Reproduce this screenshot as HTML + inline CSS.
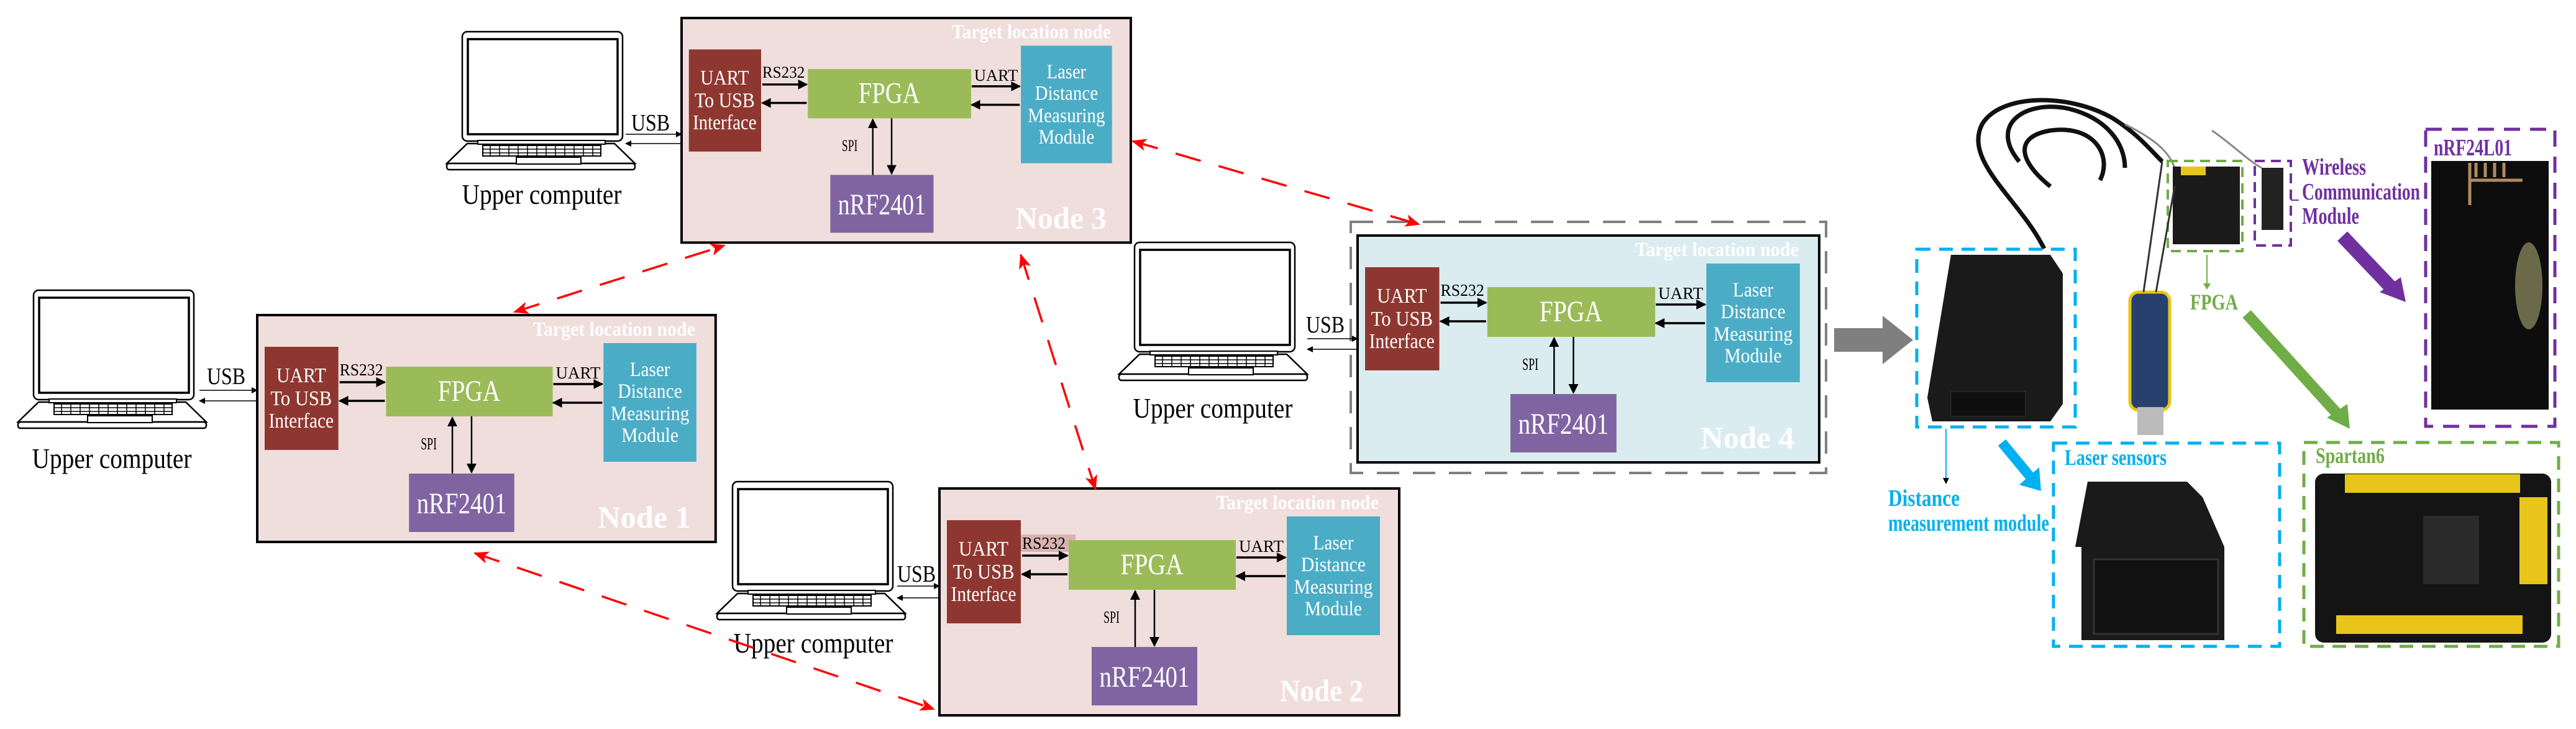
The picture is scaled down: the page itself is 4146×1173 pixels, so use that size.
<!DOCTYPE html>
<html><head><meta charset="utf-8"><style>html,body{margin:0;padding:0;background:#fff}svg{display:block}text{font-family:"Liberation Serif",serif}</style></head>
<body>
<svg width="4146" height="1173" viewBox="0 0 4146 1173" xmlns="http://www.w3.org/2000/svg">
<defs>
<marker id="ah" markerWidth="10" markerHeight="10" refX="9" refY="5" orient="auto" markerUnits="userSpaceOnUse" viewBox="0 0 10 10"><path d="M0,0 L10,5 L0,10 z" fill="#000"/></marker>
<marker id="ahb" markerWidth="16" markerHeight="16" refX="14" refY="8" orient="auto" markerUnits="userSpaceOnUse" viewBox="0 0 16 16"><path d="M0,0 L16,8 L0,16 z" fill="#000"/></marker>
<marker id="ahr" markerWidth="24" markerHeight="20" refX="22" refY="10" orient="auto" markerUnits="userSpaceOnUse" viewBox="0 0 24 20"><path d="M0,0 L24,10 L0,20 L6,10 z" fill="#ff0000"/></marker>
<marker id="ahrs" markerWidth="24" markerHeight="20" refX="2" refY="10" orient="auto" markerUnits="userSpaceOnUse" viewBox="0 0 24 20"><path d="M24,0 L0,10 L24,20 L18,10 z" fill="#ff0000"/></marker>
</defs>

<rect x="2174" y="357" width="765" height="404" fill="none" stroke="#7f7f7f" stroke-width="4" stroke-dasharray="36 22"/>

<!-- NODE 3 -->
<g transform="translate(1097,29) scale(0.977,0.99)">
<rect x="0" y="0" width="740" height="365" fill="#f0dedc" stroke="#000" stroke-width="4"/>
<text x="707" y="33" font-size="32" font-weight="bold" fill="#fff" text-anchor="end" textLength="262" lengthAdjust="spacingAndGlyphs">Target location node</text>
<rect x="12" y="51" width="119" height="166" fill="#8e3730"/>
<g fill="#fff" font-size="34" text-anchor="middle"><text x="71" y="108" textLength="80" lengthAdjust="spacingAndGlyphs">UART</text><text x="71" y="145" textLength="99" lengthAdjust="spacingAndGlyphs">To USB</text><text x="71" y="181" textLength="105" lengthAdjust="spacingAndGlyphs">Interface</text></g>
<rect x="208" y="83" width="269" height="80" fill="#9bbb59"/>
<text x="342" y="138" font-size="48" fill="#fff" text-anchor="middle" textLength="101" lengthAdjust="spacingAndGlyphs">FPGA</text>
<rect x="559" y="45" width="150" height="191" fill="#4bacc6"/>
<g fill="#fff" font-size="33" text-anchor="middle"><text x="634" y="98" textLength="65" lengthAdjust="spacingAndGlyphs">Laser</text><text x="634" y="133" textLength="104" lengthAdjust="spacingAndGlyphs">Distance</text><text x="634" y="169" textLength="127" lengthAdjust="spacingAndGlyphs">Measuring</text><text x="634" y="204" textLength="92" lengthAdjust="spacingAndGlyphs">Module</text></g>
<rect x="245" y="255" width="170" height="94" fill="#8064a2"/>
<text x="330" y="319" font-size="48" fill="#fff" text-anchor="middle" textLength="145" lengthAdjust="spacingAndGlyphs">nRF2401</text>
<text x="625" y="342" font-size="50" font-weight="bold" fill="#fff" text-anchor="middle" textLength="150" lengthAdjust="spacingAndGlyphs">Node  3</text>
<text x="168" y="97" font-size="27" text-anchor="middle" textLength="70" lengthAdjust="spacingAndGlyphs">RS232</text>
<text x="518" y="102" font-size="27" text-anchor="middle" textLength="72" lengthAdjust="spacingAndGlyphs">UART</text>
<text x="277" y="216" font-size="27" text-anchor="middle" textLength="26" lengthAdjust="spacingAndGlyphs">SPI</text>
<g stroke="#000" stroke-width="3.5"><line x1="133" y1="108" x2="206" y2="108" marker-end="url(#ahb)"/><line x1="206" y1="138" x2="133" y2="138" marker-end="url(#ahb)"/><line x1="478" y1="111" x2="557" y2="111" marker-end="url(#ahb)"/><line x1="557" y1="141" x2="478" y2="141" marker-end="url(#ahb)"/></g>
<g stroke="#000" stroke-width="2.5"><line x1="315" y1="255" x2="315" y2="165" marker-end="url(#ahb)"/><line x1="346" y1="163" x2="346" y2="253" marker-end="url(#ahb)"/></g>
</g>

<!-- NODE 1 -->
<g transform="translate(414,507) scale(0.997,1)">
<rect x="0" y="0" width="740" height="365" fill="#f0dedc" stroke="#000" stroke-width="4"/>
<text x="707" y="33" font-size="32" font-weight="bold" fill="#fff" text-anchor="end" textLength="262" lengthAdjust="spacingAndGlyphs">Target location node</text>
<rect x="12" y="51" width="119" height="166" fill="#8e3730"/>
<g fill="#fff" font-size="34" text-anchor="middle"><text x="71" y="108" textLength="80" lengthAdjust="spacingAndGlyphs">UART</text><text x="71" y="145" textLength="99" lengthAdjust="spacingAndGlyphs">To USB</text><text x="71" y="181" textLength="105" lengthAdjust="spacingAndGlyphs">Interface</text></g>
<rect x="208" y="83" width="269" height="80" fill="#9bbb59"/>
<text x="342" y="138" font-size="48" fill="#fff" text-anchor="middle" textLength="101" lengthAdjust="spacingAndGlyphs">FPGA</text>
<rect x="559" y="45" width="150" height="191" fill="#4bacc6"/>
<g fill="#fff" font-size="33" text-anchor="middle"><text x="634" y="98" textLength="65" lengthAdjust="spacingAndGlyphs">Laser</text><text x="634" y="133" textLength="104" lengthAdjust="spacingAndGlyphs">Distance</text><text x="634" y="169" textLength="127" lengthAdjust="spacingAndGlyphs">Measuring</text><text x="634" y="204" textLength="92" lengthAdjust="spacingAndGlyphs">Module</text></g>
<rect x="245" y="255" width="170" height="94" fill="#8064a2"/>
<text x="330" y="319" font-size="48" fill="#fff" text-anchor="middle" textLength="145" lengthAdjust="spacingAndGlyphs">nRF2401</text>
<text x="625" y="342" font-size="50" font-weight="bold" fill="#fff" text-anchor="middle" textLength="150" lengthAdjust="spacingAndGlyphs">Node  1</text>
<text x="168" y="97" font-size="27" text-anchor="middle" textLength="70" lengthAdjust="spacingAndGlyphs">RS232</text>
<text x="518" y="102" font-size="27" text-anchor="middle" textLength="72" lengthAdjust="spacingAndGlyphs">UART</text>
<text x="277" y="216" font-size="27" text-anchor="middle" textLength="26" lengthAdjust="spacingAndGlyphs">SPI</text>
<g stroke="#000" stroke-width="3.5"><line x1="133" y1="108" x2="206" y2="108" marker-end="url(#ahb)"/><line x1="206" y1="138" x2="133" y2="138" marker-end="url(#ahb)"/><line x1="478" y1="111" x2="557" y2="111" marker-end="url(#ahb)"/><line x1="557" y1="141" x2="478" y2="141" marker-end="url(#ahb)"/></g>
<g stroke="#000" stroke-width="2.5"><line x1="315" y1="255" x2="315" y2="165" marker-end="url(#ahb)"/><line x1="346" y1="163" x2="346" y2="253" marker-end="url(#ahb)"/></g>
</g>

<!-- NODE 2 -->
<g transform="translate(1512,786)">
<rect x="0" y="0" width="740" height="365" fill="#f0dedc" stroke="#000" stroke-width="4"/>
<text x="707" y="33" font-size="32" font-weight="bold" fill="#fff" text-anchor="end" textLength="262" lengthAdjust="spacingAndGlyphs">Target location node</text>
<rect x="131" y="74" width="88" height="28" fill="#d9b3b0"/>
<rect x="12" y="51" width="119" height="166" fill="#8e3730"/>
<g fill="#fff" font-size="34" text-anchor="middle"><text x="71" y="108" textLength="80" lengthAdjust="spacingAndGlyphs">UART</text><text x="71" y="145" textLength="99" lengthAdjust="spacingAndGlyphs">To USB</text><text x="71" y="181" textLength="105" lengthAdjust="spacingAndGlyphs">Interface</text></g>
<rect x="208" y="83" width="269" height="80" fill="#9bbb59"/>
<text x="342" y="138" font-size="48" fill="#fff" text-anchor="middle" textLength="101" lengthAdjust="spacingAndGlyphs">FPGA</text>
<rect x="559" y="45" width="150" height="191" fill="#4bacc6"/>
<g fill="#fff" font-size="33" text-anchor="middle"><text x="634" y="98" textLength="65" lengthAdjust="spacingAndGlyphs">Laser</text><text x="634" y="133" textLength="104" lengthAdjust="spacingAndGlyphs">Distance</text><text x="634" y="169" textLength="127" lengthAdjust="spacingAndGlyphs">Measuring</text><text x="634" y="204" textLength="92" lengthAdjust="spacingAndGlyphs">Module</text></g>
<rect x="245" y="255" width="170" height="94" fill="#8064a2"/>
<text x="330" y="319" font-size="48" fill="#fff" text-anchor="middle" textLength="145" lengthAdjust="spacingAndGlyphs">nRF2401</text>
<text x="615" y="342" font-size="50" font-weight="bold" fill="#fff" text-anchor="middle" textLength="134" lengthAdjust="spacingAndGlyphs">Node 2</text>
<text x="168" y="97" font-size="27" text-anchor="middle" textLength="70" lengthAdjust="spacingAndGlyphs">RS232</text>
<text x="518" y="102" font-size="27" text-anchor="middle" textLength="72" lengthAdjust="spacingAndGlyphs">UART</text>
<text x="277" y="216" font-size="27" text-anchor="middle" textLength="26" lengthAdjust="spacingAndGlyphs">SPI</text>
<g stroke="#000" stroke-width="3.5"><line x1="133" y1="108" x2="206" y2="108" marker-end="url(#ahb)"/><line x1="206" y1="138" x2="133" y2="138" marker-end="url(#ahb)"/><line x1="478" y1="111" x2="557" y2="111" marker-end="url(#ahb)"/><line x1="557" y1="141" x2="478" y2="141" marker-end="url(#ahb)"/></g>
<g stroke="#000" stroke-width="2.5"><line x1="315" y1="255" x2="315" y2="165" marker-end="url(#ahb)"/><line x1="346" y1="163" x2="346" y2="253" marker-end="url(#ahb)"/></g>
</g>

<!-- NODE 4 -->
<g transform="translate(2185,379) scale(1.004,1)">
<rect x="0" y="0" width="740" height="365" fill="#dbecf0" stroke="#000" stroke-width="4"/>
<text x="707" y="33" font-size="32" font-weight="bold" fill="#fff" text-anchor="end" textLength="262" lengthAdjust="spacingAndGlyphs">Target location node</text>
<rect x="12" y="51" width="119" height="166" fill="#8e3730"/>
<g fill="#fff" font-size="34" text-anchor="middle"><text x="71" y="108" textLength="80" lengthAdjust="spacingAndGlyphs">UART</text><text x="71" y="145" textLength="99" lengthAdjust="spacingAndGlyphs">To USB</text><text x="71" y="181" textLength="105" lengthAdjust="spacingAndGlyphs">Interface</text></g>
<rect x="208" y="83" width="269" height="80" fill="#9bbb59"/>
<text x="342" y="138" font-size="48" fill="#fff" text-anchor="middle" textLength="101" lengthAdjust="spacingAndGlyphs">FPGA</text>
<rect x="559" y="45" width="150" height="191" fill="#4bacc6"/>
<g fill="#fff" font-size="33" text-anchor="middle"><text x="634" y="98" textLength="65" lengthAdjust="spacingAndGlyphs">Laser</text><text x="634" y="133" textLength="104" lengthAdjust="spacingAndGlyphs">Distance</text><text x="634" y="169" textLength="127" lengthAdjust="spacingAndGlyphs">Measuring</text><text x="634" y="204" textLength="92" lengthAdjust="spacingAndGlyphs">Module</text></g>
<rect x="245" y="255" width="170" height="94" fill="#8064a2"/>
<text x="330" y="319" font-size="48" fill="#fff" text-anchor="middle" textLength="145" lengthAdjust="spacingAndGlyphs">nRF2401</text>
<text x="625" y="342" font-size="50" font-weight="bold" fill="#fff" text-anchor="middle" textLength="150" lengthAdjust="spacingAndGlyphs">Node  4</text>
<text x="168" y="97" font-size="27" text-anchor="middle" textLength="70" lengthAdjust="spacingAndGlyphs">RS232</text>
<text x="518" y="102" font-size="27" text-anchor="middle" textLength="72" lengthAdjust="spacingAndGlyphs">UART</text>
<text x="277" y="216" font-size="27" text-anchor="middle" textLength="26" lengthAdjust="spacingAndGlyphs">SPI</text>
<g stroke="#000" stroke-width="3.5"><line x1="133" y1="108" x2="206" y2="108" marker-end="url(#ahb)"/><line x1="206" y1="138" x2="133" y2="138" marker-end="url(#ahb)"/><line x1="478" y1="111" x2="557" y2="111" marker-end="url(#ahb)"/><line x1="557" y1="141" x2="478" y2="141" marker-end="url(#ahb)"/></g>
<g stroke="#000" stroke-width="2.5"><line x1="315" y1="255" x2="315" y2="165" marker-end="url(#ahb)"/><line x1="346" y1="163" x2="346" y2="253" marker-end="url(#ahb)"/></g>
</g>

<!-- LAPTOPS -->
<g transform="translate(29,467)">
<rect x="25" y="0" width="258" height="176" rx="8" fill="#fff" stroke="#000" stroke-width="2.5"/>
<rect x="34" y="12" width="241" height="153" fill="#fff" stroke="#000" stroke-width="3.5"/>
<path d="M33,180 L270,180 L303,212 L0,212 Z" fill="#fff" stroke="#000" stroke-width="2.5"/>
<rect x="0" y="212" width="303" height="10" rx="4" fill="#fff" stroke="#000" stroke-width="2.5"/>
<rect x="50" y="175" width="205" height="6" fill="#fff" stroke="#000" stroke-width="2"/>
<rect x="58" y="183" width="190" height="17" fill="#fff" stroke="#000" stroke-width="2"/>
<path d="M58,189 H248 M58,195 H248 M70,183 V200 M85,183 V200 M100,183 V200 M115,183 V200 M130,183 V200 M145,183 V200 M160,183 V200 M175,183 V200 M190,183 V200 M205,183 V200 M220,183 V200 M235,183 V200" stroke="#000" stroke-width="1.5"/>
<rect x="112" y="202" width="104" height="11" fill="#fff" stroke="#000" stroke-width="2"/>
<text x="151" y="286" font-size="45" text-anchor="middle" textLength="257" lengthAdjust="spacingAndGlyphs">Upper computer</text>
</g>
<g transform="translate(719,51)">
<rect x="25" y="0" width="258" height="176" rx="8" fill="#fff" stroke="#000" stroke-width="2.5"/>
<rect x="34" y="12" width="241" height="153" fill="#fff" stroke="#000" stroke-width="3.5"/>
<path d="M33,180 L270,180 L303,212 L0,212 Z" fill="#fff" stroke="#000" stroke-width="2.5"/>
<rect x="0" y="212" width="303" height="10" rx="4" fill="#fff" stroke="#000" stroke-width="2.5"/>
<rect x="50" y="175" width="205" height="6" fill="#fff" stroke="#000" stroke-width="2"/>
<rect x="58" y="183" width="190" height="17" fill="#fff" stroke="#000" stroke-width="2"/>
<path d="M58,189 H248 M58,195 H248 M70,183 V200 M85,183 V200 M100,183 V200 M115,183 V200 M130,183 V200 M145,183 V200 M160,183 V200 M175,183 V200 M190,183 V200 M205,183 V200 M220,183 V200 M235,183 V200" stroke="#000" stroke-width="1.5"/>
<rect x="112" y="202" width="104" height="11" fill="#fff" stroke="#000" stroke-width="2"/>
<text x="153" y="277" font-size="45" text-anchor="middle" textLength="257" lengthAdjust="spacingAndGlyphs">Upper computer</text>
</g>
<g transform="translate(1801,390)">
<rect x="25" y="0" width="258" height="176" rx="8" fill="#fff" stroke="#000" stroke-width="2.5"/>
<rect x="34" y="12" width="241" height="153" fill="#fff" stroke="#000" stroke-width="3.5"/>
<path d="M33,180 L270,180 L303,212 L0,212 Z" fill="#fff" stroke="#000" stroke-width="2.5"/>
<rect x="0" y="212" width="303" height="10" rx="4" fill="#fff" stroke="#000" stroke-width="2.5"/>
<rect x="50" y="175" width="205" height="6" fill="#fff" stroke="#000" stroke-width="2"/>
<rect x="58" y="183" width="190" height="17" fill="#fff" stroke="#000" stroke-width="2"/>
<path d="M58,189 H248 M58,195 H248 M70,183 V200 M85,183 V200 M100,183 V200 M115,183 V200 M130,183 V200 M145,183 V200 M160,183 V200 M175,183 V200 M190,183 V200 M205,183 V200 M220,183 V200 M235,183 V200" stroke="#000" stroke-width="1.5"/>
<rect x="112" y="202" width="104" height="11" fill="#fff" stroke="#000" stroke-width="2"/>
<text x="151" y="282" font-size="45" text-anchor="middle" textLength="257" lengthAdjust="spacingAndGlyphs">Upper computer</text>
</g>
<g transform="translate(1154,775)">
<rect x="25" y="0" width="258" height="176" rx="8" fill="#fff" stroke="#000" stroke-width="2.5"/>
<rect x="34" y="12" width="241" height="153" fill="#fff" stroke="#000" stroke-width="3.5"/>
<path d="M33,180 L270,180 L303,212 L0,212 Z" fill="#fff" stroke="#000" stroke-width="2.5"/>
<rect x="0" y="212" width="303" height="10" rx="4" fill="#fff" stroke="#000" stroke-width="2.5"/>
<rect x="50" y="175" width="205" height="6" fill="#fff" stroke="#000" stroke-width="2"/>
<rect x="58" y="183" width="190" height="17" fill="#fff" stroke="#000" stroke-width="2"/>
<path d="M58,189 H248 M58,195 H248 M70,183 V200 M85,183 V200 M100,183 V200 M115,183 V200 M130,183 V200 M145,183 V200 M160,183 V200 M175,183 V200 M190,183 V200 M205,183 V200 M220,183 V200 M235,183 V200" stroke="#000" stroke-width="1.5"/>
<rect x="112" y="202" width="104" height="11" fill="#fff" stroke="#000" stroke-width="2"/>
<text x="155" y="275" font-size="45" text-anchor="middle" textLength="257" lengthAdjust="spacingAndGlyphs">Upper computer</text>
</g>

<!-- USB links -->
<g font-size="38" text-anchor="middle">
<text x="364" y="618" textLength="62" lengthAdjust="spacingAndGlyphs">USB</text>
<text x="1047" y="210" textLength="62" lengthAdjust="spacingAndGlyphs">USB</text>
<text x="2133" y="535" textLength="62" lengthAdjust="spacingAndGlyphs">USB</text>
<text x="1475" y="936" textLength="62" lengthAdjust="spacingAndGlyphs">USB</text>
</g>
<g stroke="#000" stroke-width="1.6">
<line x1="321" y1="628" x2="414" y2="628" marker-end="url(#ah)"/><line x1="414" y1="645" x2="321" y2="645" marker-end="url(#ah)"/>
<line x1="1007" y1="216" x2="1097" y2="216" marker-end="url(#ah)"/><line x1="1097" y1="231" x2="1007" y2="231" marker-end="url(#ah)"/>
<line x1="2104" y1="545" x2="2185" y2="545" marker-end="url(#ah)"/><line x1="2185" y1="562" x2="2104" y2="562" marker-end="url(#ah)"/>
<line x1="1444" y1="943" x2="1512" y2="943" marker-end="url(#ah)"/><line x1="1512" y1="962" x2="1444" y2="962" marker-end="url(#ah)"/>
</g>

<!-- Red dashed links -->
<g stroke="#ff0000" stroke-width="3.5" stroke-dasharray="42 30" fill="none">
<line x1="1823" y1="227" x2="2284" y2="361" marker-start="url(#ahrs)" marker-end="url(#ahr)"/>
<line x1="828" y1="502" x2="1166" y2="395" marker-start="url(#ahrs)" marker-end="url(#ahr)"/>
<line x1="1643" y1="410" x2="1763" y2="787" marker-start="url(#ahrs)" marker-end="url(#ahr)"/>
<line x1="764" y1="890" x2="1503" y2="1141" marker-start="url(#ahrs)" marker-end="url(#ahr)"/>
</g>

<polygon points="2952,528 3030,528 3030,508 3079,547 3030,586 3030,566 2952,566" fill="#7f7f7f"/>

<!-- Photos (approximate) -->
<g fill="none" stroke="#111" stroke-width="7">
<path d="M3290,400 C3250,320 3160,260 3190,200 C3220,150 3330,150 3400,190 C3440,215 3460,240 3480,260"/>
<path d="M3250,260 C3200,200 3260,160 3330,175 C3390,190 3420,230 3420,270"/>
<path d="M3300,300 C3250,260 3240,220 3300,210 C3370,200 3400,250 3380,290"/>
</g>
<g fill="none" stroke="#888" stroke-width="3"><path d="M3420,200 C3460,220 3490,240 3500,270"/><path d="M3560,210 C3590,230 3620,260 3640,270"/></g>
<path d="M3140,410 L3300,410 L3320,440 L3320,650 L3300,678 L3110,678 L3102,640 Z" fill="#1a1a1a"/>
<rect x="3140" y="630" width="120" height="40" fill="#0f0f0f" stroke="#333"/>
<rect x="3085" y="401" width="255" height="286" fill="none" stroke="#00b0f0" stroke-width="5" stroke-dasharray="22 14"/>
<line x1="3132" y1="690" x2="3132" y2="778" stroke="#00b0f0" stroke-width="2" marker-end="url(#ah)"/>
<text x="3039" y="814" font-size="38" font-weight="bold" fill="#00b0f0" textLength="115" lengthAdjust="spacingAndGlyphs">Distance</text>
<text x="3039" y="854" font-size="38" font-weight="bold" fill="#00b0f0" textLength="259" lengthAdjust="spacingAndGlyphs">measurement module</text>
<line x1="3222" y1="712" x2="3270" y2="770" stroke="#00b0f0" stroke-width="16"/>
<polygon points="3250,780 3285,790 3282,752" fill="#00b0f0"/>
<path d="M3360,775 L3520,775 L3545,800 L3580,880 L3580,1030 L3350,1030 L3350,880 L3340,880 Z" fill="#1a1a1a"/>
<rect x="3370" y="900" width="200" height="120" fill="#111" stroke="#333" stroke-width="3"/>
<rect x="3305" y="713" width="364" height="327" fill="none" stroke="#00b0f0" stroke-width="5" stroke-dasharray="22 14"/>
<text x="3323" y="748" font-size="36" font-weight="bold" fill="#00b0f0" textLength="164" lengthAdjust="spacingAndGlyphs">Laser sensors</text>
<rect x="3726" y="762" width="380" height="272" rx="14" fill="#141414"/>
<rect x="3774" y="763" width="282" height="30" fill="#e8c51a"/>
<rect x="3760" y="990" width="300" height="30" fill="#e8c51a"/>
<rect x="4055" y="800" width="45" height="140" fill="#e8c51a"/>
<rect x="3900" y="830" width="90" height="110" fill="#2a2a2a"/>
<rect x="3708" y="712" width="410" height="328" fill="none" stroke="#70ad47" stroke-width="5" stroke-dasharray="22 14"/>
<text x="3727" y="745" font-size="36" font-weight="bold" fill="#70ad47" textLength="111" lengthAdjust="spacingAndGlyphs">Spartan6</text>
<rect x="3913" y="259" width="189" height="400" fill="#0d0d0d"/>
<path d="M3975,262 V330 M3975,290 H4060 M3985,262 V285 M4000,262 V285 M4015,262 V285 M4030,262 V285" stroke="#b08a60" stroke-width="5" fill="none"/>
<ellipse cx="4070" cy="460" rx="22" ry="70" fill="#6a6a4a"/>
<rect x="3904" y="208" width="208" height="478" fill="none" stroke="#7030a0" stroke-width="5" stroke-dasharray="26 16"/>
<text x="3917" y="250" font-size="38" font-weight="bold" fill="#7030a0" textLength="126" lengthAdjust="spacingAndGlyphs">nRF24L01</text>
<rect x="3497" y="268" width="108" height="125" fill="#1a1a1a"/>
<rect x="3510" y="268" width="40" height="14" fill="#e8c51a"/>
<rect x="3489" y="259" width="120" height="145" fill="none" stroke="#70ad47" stroke-width="4" stroke-dasharray="16 10"/>
<line x1="3552" y1="410" x2="3552" y2="463" stroke="#70ad47" stroke-width="2"/>
<polygon points="3546,456 3558,456 3552,466" fill="#70ad47"/>
<text x="3525" y="498" font-size="36" font-weight="bold" fill="#70ad47" textLength="77" lengthAdjust="spacingAndGlyphs">FPGA</text>
<rect x="3640" y="270" width="35" height="100" fill="#222"/>
<rect x="3629" y="259" width="58" height="136" fill="none" stroke="#7030a0" stroke-width="4" stroke-dasharray="16 10"/>
<line x1="3687" y1="322" x2="3700" y2="322" stroke="#7030a0" stroke-width="2"/>
<g font-size="38" font-weight="bold" fill="#7030a0"><text x="3705" y="281" textLength="103" lengthAdjust="spacingAndGlyphs">Wireless</text><text x="3705" y="321" textLength="190" lengthAdjust="spacingAndGlyphs">Communication</text><text x="3705" y="360" textLength="92" lengthAdjust="spacingAndGlyphs">Module</text></g>
<rect x="3428" y="470" width="64" height="190" rx="14" fill="#27406e" stroke="#e8c51a" stroke-width="5"/>
<rect x="3440" y="655" width="42" height="45" fill="#bbb"/>
<g stroke="#333" stroke-width="3"><line x1="3450" y1="470" x2="3480" y2="260"/><line x1="3470" y1="470" x2="3500" y2="300"/></g>
<line x1="3770" y1="380" x2="3848" y2="462" stroke="#7030a0" stroke-width="22"/>
<polygon points="3830,470 3872,486 3864,446" fill="#7030a0"/>
<line x1="3616" y1="505" x2="3762" y2="666" stroke="#70ad47" stroke-width="18"/>
<polygon points="3745,672 3782,690 3778,650" fill="#70ad47"/>
</svg>
</body></html>
